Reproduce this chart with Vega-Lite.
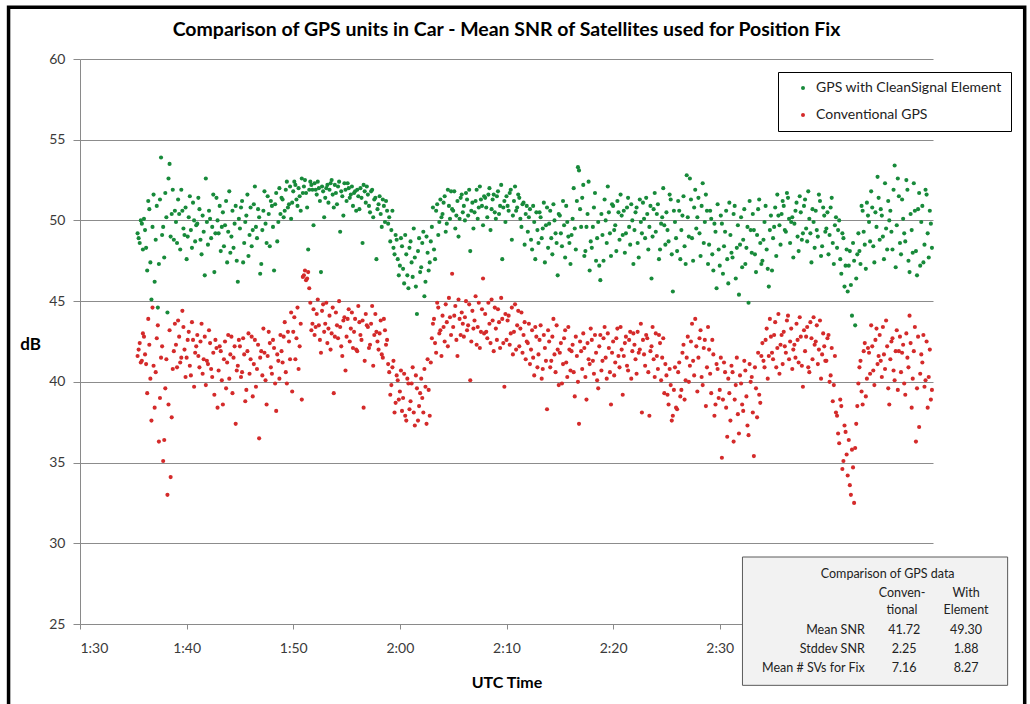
{
"$schema": "https://vega.github.io/schema/vega-lite/v6.json",
"autosize": "none",
"width": 853,
"height": 565,
"padding": {"left": 80, "top": 59, "right": 97, "bottom": 80},
"background": "white",
"config": {
  "font": "Lato",
  "view": {"stroke": null},
  "axis": {"labelFont": "Lato", "labelFontSize": 14, "labelColor": "#3a3a3a", "domainColor": "#8a8a8a", "tickColor": "#8a8a8a", "gridColor": "#8c8c8c", "titleFont": "Lato", "titleFontSize": 17, "titleFontWeight": "bold", "titleColor": "#000000"},
  "legend": {"orient": "none", "legendX": 698, "legendY": 13, "strokeColor": "#000000", "fillColor": "#ffffff", "padding": 9, "symbolOffset": 9, "labelFont": "Lato", "labelFontSize": 14, "labelColor": "#222222", "labelLimit": 400, "symbolSize": 16, "symbolType": "circle", "rowPadding": 13, "labelOffset": 6}
},
"title": {"text": "Comparison of GPS units in Car - Mean SNR of Satellites used for Position Fix", "font": "Lato", "fontSize": 19.5, "fontWeight": "bold", "color": "#000000", "anchor": "middle", "baseline": "alphabetic", "offset": -49.5},
"datasets": {
"frame": [{"t": 83.3, "t2": 178.6, "d": 63.2, "d2": 18}],
"box": [{"t": 152.13, "t2": 177.0, "d": 29.15, "d2": 21.2}],
"tcenter": [
 {"t": 165.75, "d": 28.09, "s": "Comparison of GPS data"},
 {"t": 167.1, "d": 26.93, "s": "Conven-"},
 {"t": 173.1, "d": 26.93, "s": "With"},
 {"t": 167.1, "d": 25.86, "s": "tional"},
 {"t": 173.1, "d": 25.86, "s": "Element"},
 {"t": 167.3, "d": 24.62, "s": "41.72"},
 {"t": 173.1, "d": 24.62, "s": "49.30"},
 {"t": 167.3, "d": 23.44, "s": "2.25"},
 {"t": 173.1, "d": 23.44, "s": "1.88"},
 {"t": 167.3, "d": 22.26, "s": "7.16"},
 {"t": 173.1, "d": 22.26, "s": "8.27"}
],
"tright": [
 {"t": 163.6, "d": 24.62, "s": "Mean SNR"},
 {"t": 163.6, "d": 23.44, "s": "Stddev SNR"},
 {"t": 163.6, "d": 22.26, "s": "Mean # SVs for Fix"}
],
"green": [
{"t":95.4,"v":49.2},{"t":95.6,"v":48.6},{"t":95.8,"v":49.8},
{"t":96.0,"v":50.1},{"t":96.2,"v":48.3},{"t":96.4,"v":51.2},{"t":96.6,"v":47.4},{"t":96.8,"v":49.6},
{"t":97.0,"v":46.2},{"t":97.2,"v":50.9},{"t":97.4,"v":47.3},{"t":97.6,"v":53.9},{"t":97.8,"v":49.6},
{"t":98.0,"v":51.7},{"t":98.2,"v":44.3},{"t":98.4,"v":53.5},{"t":98.6,"v":50.4},{"t":98.8,"v":48.8},
{"t":99.0,"v":49.9},{"t":99.2,"v":51.3},{"t":99.4,"v":48.2},{"t":99.6,"v":50.6},{"t":99.8,"v":49.1},
{"t":100.0,"v":47.6},{"t":100.2,"v":50.2},{"t":100.4,"v":49.4},{"t":100.6,"v":51.1},{"t":100.8,"v":48.7},
{"t":101.0,"v":49.8},{"t":101.2,"v":50.7},{"t":101.4,"v":47.9},{"t":101.6,"v":49.3},{"t":101.8,"v":52.6},
{"t":102.0,"v":48.5},{"t":102.2,"v":50.1},{"t":102.4,"v":49.6},{"t":102.6,"v":46.8},{"t":102.8,"v":51.4},
{"t":103.0,"v":49.2},{"t":103.2,"v":48.1},{"t":103.4,"v":50.5},{"t":103.6,"v":49.7},{"t":103.8,"v":47.4},
{"t":104.0,"v":51.8},{"t":104.2,"v":49.0},{"t":104.4,"v":48.3},{"t":104.6,"v":50.9},{"t":104.8,"v":46.2},
{"t":105.0,"v":49.5},{"t":105.2,"v":51.2},{"t":105.4,"v":48.6},{"t":105.6,"v":50.3},{"t":105.8,"v":47.8},
{"t":106.0,"v":50.8},{"t":106.2,"v":49.4},{"t":106.4,"v":52.1},{"t":106.6,"v":48.9},{"t":106.8,"v":50.2},
{"t":107.0,"v":47.3},{"t":107.2,"v":50.6},{"t":107.4,"v":49.8},{"t":107.6,"v":51.5},{"t":107.8,"v":48.4},
{"t":108.0,"v":50.9},{"t":108.2,"v":46.9},{"t":108.4,"v":51.7},{"t":108.6,"v":49.9},{"t":108.8,"v":50.4},
{"t":109.0,"v":51.3},{"t":109.2,"v":50.6},{"t":109.4,"v":52.4},{"t":109.6,"v":51.0},{"t":109.8,"v":50.1},
{"t":110.0,"v":51.8},{"t":110.2,"v":52.2},{"t":110.4,"v":50.9},{"t":110.6,"v":51.5},{"t":110.8,"v":52.6},
{"t":111.0,"v":52.1},{"t":111.2,"v":51.7},{"t":111.4,"v":48.2},{"t":111.6,"v":52.4},{"t":111.8,"v":51.9},
{"t":112.0,"v":52.3},{"t":112.2,"v":51.6},{"t":112.4,"v":52.0},{"t":112.6,"v":46.8},{"t":112.8,"v":51.8},
{"t":113.0,"v":51.4},{"t":113.2,"v":52.2},{"t":113.4,"v":51.9},{"t":113.6,"v":52.5},{"t":113.8,"v":50.8},
{"t":114.0,"v":51.7},{"t":114.2,"v":52.1},{"t":114.4,"v":49.3},{"t":114.6,"v":51.5},{"t":114.8,"v":52.3},
{"t":115.0,"v":51.2},{"t":115.2,"v":52.0},{"t":115.4,"v":51.6},{"t":115.6,"v":50.9},{"t":115.8,"v":51.8},
{"t":116.0,"v":51.9},{"t":116.2,"v":50.7},{"t":116.4,"v":51.4},{"t":116.6,"v":52.2},{"t":116.8,"v":51.1},
{"t":117.0,"v":51.6},{"t":117.2,"v":50.5},{"t":117.4,"v":51.9},{"t":117.6,"v":51.3},{"t":117.8,"v":47.6},
{"t":118.0,"v":51.0},{"t":118.2,"v":50.4},{"t":118.4,"v":51.3},{"t":118.6,"v":49.9},{"t":118.8,"v":50.6},
{"t":119.0,"v":50.2},{"t":119.2,"v":49.4},{"t":119.4,"v":48.3},{"t":119.6,"v":49.1},{"t":119.8,"v":47.6},
{"t":120.0,"v":47.2},{"t":120.2,"v":48.4},{"t":120.4,"v":46.1},{"t":120.6,"v":47.9},{"t":120.8,"v":45.8},
{"t":121.0,"v":48.7},{"t":121.2,"v":46.5},{"t":121.4,"v":47.7},{"t":121.6,"v":44.2},{"t":121.8,"v":48.9},
{"t":122.0,"v":47.1},{"t":122.2,"v":49.3},{"t":122.4,"v":46.2},{"t":122.6,"v":48.0},{"t":122.8,"v":47.4},
{"t":123.0,"v":49.6},{"t":123.2,"v":48.2},{"t":123.4,"v":50.6},{"t":123.6,"v":49.1},{"t":123.8,"v":51.3},
{"t":124.0,"v":50.4},{"t":124.2,"v":51.5},{"t":124.4,"v":49.8},{"t":124.6,"v":50.9},{"t":124.8,"v":51.8},
{"t":125.0,"v":50.6},{"t":125.2,"v":49.5},{"t":125.4,"v":51.2},{"t":125.6,"v":50.1},{"t":125.8,"v":51.6},
{"t":126.0,"v":50.9},{"t":126.2,"v":51.7},{"t":126.4,"v":50.3},{"t":126.6,"v":48.1},{"t":126.8,"v":51.1},
{"t":127.0,"v":50.5},{"t":127.2,"v":51.9},{"t":127.4,"v":50.8},{"t":127.6,"v":51.3},{"t":127.8,"v":49.7},
{"t":128.0,"v":51.4},{"t":128.2,"v":50.2},{"t":128.4,"v":52.0},{"t":128.6,"v":50.7},{"t":128.8,"v":51.6},
{"t":129.0,"v":50.1},{"t":129.2,"v":51.8},{"t":129.4,"v":50.9},{"t":129.6,"v":47.6},{"t":129.8,"v":51.2},
{"t":130.0,"v":51.5},{"t":130.2,"v":50.6},{"t":130.4,"v":51.9},{"t":130.6,"v":50.3},{"t":130.8,"v":52.1},
{"t":131.0,"v":50.8},{"t":131.2,"v":51.4},{"t":131.4,"v":49.6},{"t":131.6,"v":51.1},{"t":131.8,"v":50.4},
{"t":132.0,"v":49.3},{"t":132.2,"v":50.7},{"t":132.4,"v":48.2},{"t":132.6,"v":49.9},{"t":132.8,"v":50.5},
{"t":133.0,"v":48.6},{"t":133.2,"v":50.2},{"t":133.4,"v":49.5},{"t":133.6,"v":47.4},{"t":133.8,"v":50.8},
{"t":134.0,"v":49.8},{"t":134.2,"v":48.9},{"t":134.4,"v":51.0},{"t":134.6,"v":49.2},{"t":134.8,"v":46.6},
{"t":135.0,"v":50.3},{"t":135.2,"v":48.4},{"t":135.4,"v":49.7},{"t":135.6,"v":50.9},{"t":135.8,"v":49.0},
{"t":136.0,"v":47.3},{"t":136.2,"v":50.1},{"t":136.4,"v":49.5},{"t":136.6,"v":51.2},{"t":136.8,"v":53.1},
{"t":137.0,"v":49.6},{"t":137.2,"v":52.2},{"t":137.4,"v":48.1},{"t":137.6,"v":50.4},{"t":137.8,"v":46.9},
{"t":138.0,"v":48.3},{"t":138.2,"v":50.8},{"t":138.4,"v":47.5},{"t":138.6,"v":49.9},{"t":138.8,"v":46.3},
{"t":139.0,"v":49.1},{"t":139.2,"v":51.3},{"t":139.4,"v":48.6},{"t":139.6,"v":50.5},{"t":139.8,"v":47.8},
{"t":140.0,"v":50.9},{"t":140.2,"v":49.7},{"t":140.4,"v":51.2},{"t":140.6,"v":48.8},{"t":140.8,"v":50.3},
{"t":141.0,"v":50.6},{"t":141.2,"v":49.2},{"t":141.4,"v":51.4},{"t":141.6,"v":48.5},{"t":141.8,"v":50.0},
{"t":142.0,"v":49.4},{"t":142.2,"v":50.8},{"t":142.4,"v":47.7},{"t":142.6,"v":49.9},{"t":142.8,"v":51.1},
{"t":143.0,"v":48.9},{"t":143.2,"v":50.4},{"t":143.4,"v":49.6},{"t":143.6,"v":46.4},{"t":143.8,"v":50.7},
{"t":144.0,"v":49.3},{"t":144.2,"v":51.0},{"t":144.4,"v":48.2},{"t":144.6,"v":50.2},{"t":144.8,"v":49.7},
{"t":145.0,"v":50.5},{"t":145.2,"v":48.7},{"t":145.4,"v":51.3},{"t":145.6,"v":45.6},{"t":145.8,"v":49.9},
{"t":146.0,"v":48.1},{"t":146.2,"v":50.6},{"t":146.4,"v":49.4},{"t":146.6,"v":51.5},{"t":146.8,"v":47.3},
{"t":147.0,"v":50.2},{"t":147.2,"v":52.6},{"t":147.4,"v":48.9},{"t":147.6,"v":50.8},{"t":147.8,"v":49.5},
{"t":148.0,"v":51.4},{"t":148.2,"v":47.8},{"t":148.4,"v":52.3},{"t":148.6,"v":49.9},{"t":148.8,"v":50.6},
{"t":149.0,"v":48.5},{"t":149.2,"v":50.1},{"t":149.4,"v":46.9},{"t":149.6,"v":49.3},{"t":149.8,"v":51.0},
{"t":150.0,"v":47.2},{"t":150.2,"v":49.8},{"t":150.4,"v":48.4},{"t":150.6,"v":50.6},{"t":150.8,"v":46.1},
{"t":151.0,"v":49.1},{"t":151.2,"v":47.7},{"t":151.4,"v":50.9},{"t":151.6,"v":48.3},{"t":151.8,"v":45.4},
{"t":152.0,"v":50.2},{"t":152.2,"v":48.8},{"t":152.4,"v":47.3},{"t":152.6,"v":49.6},{"t":152.8,"v":51.2},
{"t":153.0,"v":48.0},{"t":153.2,"v":49.4},{"t":153.4,"v":46.8},{"t":153.6,"v":50.7},{"t":153.8,"v":48.6},
{"t":154.0,"v":47.5},{"t":154.2,"v":49.9},{"t":154.4,"v":48.2},{"t":154.6,"v":45.9},{"t":154.8,"v":50.3},
{"t":155.0,"v":48.9},{"t":155.2,"v":50.8},{"t":155.4,"v":51.6},{"t":155.6,"v":49.7},{"t":155.8,"v":50.4},
{"t":156.0,"v":50.9},{"t":156.2,"v":49.3},{"t":156.4,"v":51.4},{"t":156.6,"v":48.6},{"t":156.8,"v":50.2},
{"t":157.0,"v":49.8},{"t":157.2,"v":51.1},{"t":157.4,"v":48.1},{"t":157.6,"v":50.5},{"t":157.8,"v":49.2},
{"t":158.0,"v":51.3},{"t":158.2,"v":48.7},{"t":158.4,"v":50.1},{"t":158.6,"v":47.4},{"t":158.8,"v":49.9},
{"t":159.0,"v":50.6},{"t":159.2,"v":49.0},{"t":159.4,"v":51.2},{"t":159.6,"v":48.4},{"t":159.8,"v":50.3},
{"t":160.0,"v":49.5},{"t":160.2,"v":47.9},{"t":160.4,"v":50.8},{"t":160.6,"v":48.6},{"t":160.8,"v":49.7},
{"t":161.0,"v":48.3},{"t":161.2,"v":50.0},{"t":161.4,"v":46.7},{"t":161.6,"v":48.9},{"t":161.8,"v":47.2},
{"t":162.0,"v":45.6},{"t":162.2,"v":48.1},{"t":162.4,"v":44.1},{"t":162.6,"v":47.5},{"t":162.8,"v":46.4},
{"t":163.0,"v":49.2},{"t":163.2,"v":47.3},{"t":163.4,"v":50.6},{"t":163.6,"v":48.5},{"t":163.8,"v":51.1},
{"t":164.0,"v":49.9},{"t":164.2,"v":51.8},{"t":164.4,"v":48.4},{"t":164.6,"v":50.5},{"t":164.8,"v":52.7},
{"t":165.0,"v":48.8},{"t":165.2,"v":50.3},{"t":165.4,"v":47.6},{"t":165.6,"v":49.5},{"t":165.8,"v":51.2},
{"t":166.0,"v":50.6},{"t":166.2,"v":48.2},{"t":166.4,"v":53.4},{"t":166.6,"v":49.7},{"t":166.8,"v":51.5},
{"t":167.0,"v":47.9},{"t":167.2,"v":50.1},{"t":167.4,"v":48.7},{"t":167.6,"v":51.9},{"t":167.8,"v":46.8},
{"t":168.0,"v":49.4},{"t":168.2,"v":52.3},{"t":168.4,"v":48.1},{"t":168.6,"v":50.7},{"t":168.8,"v":47.2},
{"t":169.0,"v":50.9},{"t":169.2,"v":48.5},{"t":169.4,"v":51.6},{"t":169.6,"v":47.7},{"t":169.8,"v":49.8},
{"t":95.5,"v":48.9},{"t":95.7,"v":50.0},{"t":95.9,"v":48.2},
{"t":96.1,"v":49.4},{"t":96.3,"v":46.9},{"t":96.5,"v":50.7},{"t":96.7,"v":45.1},{"t":96.9,"v":51.6},
{"t":97.1,"v":48.8},{"t":97.3,"v":44.6},{"t":97.5,"v":51.3},{"t":97.7,"v":49.1},{"t":97.9,"v":47.7},
{"t":98.1,"v":50.2},{"t":98.3,"v":52.6},{"t":98.5,"v":49.0},{"t":98.7,"v":51.9},{"t":98.9,"v":50.6},
{"t":99.1,"v":48.6},{"t":99.3,"v":50.4},{"t":99.5,"v":51.9},{"t":99.7,"v":49.5},{"t":99.9,"v":50.8},
{"t":100.1,"v":49.0},{"t":100.3,"v":51.5},{"t":100.5,"v":48.3},{"t":100.7,"v":50.0},{"t":100.9,"v":49.7},
{"t":101.1,"v":51.4},{"t":101.3,"v":48.8},{"t":101.5,"v":50.3},{"t":101.7,"v":46.6},{"t":101.9,"v":49.9},
{"t":102.1,"v":50.6},{"t":102.3,"v":48.9},{"t":102.5,"v":51.6},{"t":102.7,"v":49.2},{"t":102.9,"v":50.0},
{"t":103.1,"v":50.9},{"t":103.3,"v":49.6},{"t":103.5,"v":48.4},{"t":103.7,"v":51.2},{"t":103.9,"v":49.3},
{"t":104.1,"v":48.0},{"t":104.3,"v":50.6},{"t":104.5,"v":49.8},{"t":104.7,"v":47.5},{"t":104.9,"v":50.1},
{"t":105.1,"v":50.8},{"t":105.3,"v":47.4},{"t":105.5,"v":49.9},{"t":105.7,"v":51.6},{"t":105.9,"v":49.1},
{"t":106.1,"v":48.4},{"t":106.3,"v":51.0},{"t":106.5,"v":49.6},{"t":106.7,"v":50.7},{"t":106.9,"v":46.7},
{"t":107.1,"v":49.4},{"t":107.3,"v":51.8},{"t":107.5,"v":48.6},{"t":107.7,"v":50.4},{"t":107.9,"v":51.2},
{"t":108.1,"v":49.6},{"t":108.3,"v":51.0},{"t":108.5,"v":48.7},{"t":108.7,"v":52.0},{"t":108.9,"v":51.4},
{"t":109.1,"v":50.2},{"t":109.3,"v":51.9},{"t":109.5,"v":50.8},{"t":109.7,"v":52.1},{"t":109.9,"v":51.1},
{"t":110.1,"v":52.4},{"t":110.3,"v":51.3},{"t":110.5,"v":52.0},{"t":110.7,"v":50.6},{"t":110.9,"v":51.7},
{"t":111.1,"v":52.5},{"t":111.3,"v":50.8},{"t":111.5,"v":51.9},{"t":111.7,"v":52.2},{"t":111.9,"v":49.7},
{"t":112.1,"v":51.9},{"t":112.3,"v":52.4},{"t":112.5,"v":51.2},{"t":112.7,"v":52.1},{"t":112.9,"v":50.2},
{"t":113.1,"v":52.0},{"t":113.3,"v":51.1},{"t":113.5,"v":52.3},{"t":113.7,"v":51.6},{"t":113.9,"v":52.2},
{"t":114.1,"v":51.0},{"t":114.3,"v":52.4},{"t":114.5,"v":51.8},{"t":114.7,"v":50.3},{"t":114.9,"v":51.9},
{"t":115.1,"v":52.3},{"t":115.3,"v":51.4},{"t":115.5,"v":52.1},{"t":115.7,"v":51.7},{"t":115.9,"v":50.6},
{"t":116.1,"v":51.5},{"t":116.3,"v":52.0},{"t":116.5,"v":48.6},{"t":116.7,"v":51.8},{"t":116.9,"v":52.1},
{"t":117.1,"v":50.9},{"t":117.3,"v":51.8},{"t":117.5,"v":50.2},{"t":117.7,"v":51.4},{"t":117.9,"v":50.7},
{"t":118.1,"v":51.5},{"t":118.3,"v":49.6},{"t":118.5,"v":50.9},{"t":118.7,"v":51.2},{"t":118.9,"v":49.8},
{"t":119.1,"v":48.7},{"t":119.3,"v":50.6},{"t":119.5,"v":47.9},{"t":119.7,"v":48.8},{"t":119.9,"v":46.6},
{"t":120.1,"v":48.9},{"t":120.3,"v":47.0},{"t":120.5,"v":49.1},{"t":120.7,"v":46.6},{"t":120.9,"v":48.3},
{"t":121.1,"v":47.4},{"t":121.3,"v":49.5},{"t":121.5,"v":45.9},{"t":121.7,"v":48.1},{"t":121.9,"v":46.8},
{"t":122.1,"v":48.6},{"t":122.3,"v":45.3},{"t":122.5,"v":49.0},{"t":122.7,"v":46.9},{"t":122.9,"v":48.7},
{"t":123.1,"v":50.8},{"t":123.3,"v":47.6},{"t":123.5,"v":51.0},{"t":123.7,"v":49.9},{"t":123.9,"v":50.2},
{"t":124.1,"v":51.1},{"t":124.3,"v":49.3},{"t":124.5,"v":51.9},{"t":124.7,"v":50.1},{"t":124.9,"v":50.7},
{"t":125.1,"v":51.8},{"t":125.3,"v":50.3},{"t":125.5,"v":49.0},{"t":125.7,"v":51.4},{"t":125.9,"v":50.5},
{"t":126.1,"v":50.0},{"t":126.3,"v":51.3},{"t":126.5,"v":51.9},{"t":126.7,"v":50.6},{"t":126.9,"v":49.5},
{"t":127.1,"v":51.2},{"t":127.3,"v":50.1},{"t":127.5,"v":52.1},{"t":127.7,"v":50.9},{"t":127.9,"v":51.5},
{"t":128.1,"v":50.8},{"t":128.3,"v":51.6},{"t":128.5,"v":49.4},{"t":128.7,"v":51.3},{"t":128.9,"v":50.5},
{"t":129.1,"v":51.5},{"t":129.3,"v":50.4},{"t":129.5,"v":52.2},{"t":129.7,"v":50.8},{"t":129.9,"v":49.9},
{"t":130.1,"v":50.9},{"t":130.3,"v":51.7},{"t":130.5,"v":48.8},{"t":130.7,"v":51.2},{"t":130.9,"v":50.6},
{"t":131.1,"v":51.6},{"t":131.3,"v":50.1},{"t":131.5,"v":51.0},{"t":131.7,"v":48.5},{"t":131.9,"v":50.9},
{"t":132.1,"v":50.2},{"t":132.3,"v":48.8},{"t":132.5,"v":50.9},{"t":132.7,"v":47.6},{"t":132.9,"v":49.4},
{"t":133.1,"v":50.5},{"t":133.3,"v":48.9},{"t":133.5,"v":51.1},{"t":133.7,"v":49.7},{"t":133.9,"v":48.3},
{"t":134.1,"v":50.6},{"t":134.3,"v":47.9},{"t":134.5,"v":50.0},{"t":134.7,"v":48.6},{"t":134.9,"v":50.4},
{"t":135.1,"v":49.2},{"t":135.3,"v":51.2},{"t":135.5,"v":47.7},{"t":135.7,"v":49.9},{"t":135.9,"v":48.6},
{"t":136.1,"v":49.1},{"t":136.3,"v":52.0},{"t":136.5,"v":48.2},{"t":136.7,"v":53.3},{"t":136.9,"v":50.7},
{"t":137.1,"v":51.4},{"t":137.3,"v":47.8},{"t":137.5,"v":49.6},{"t":137.7,"v":52.4},{"t":137.9,"v":48.7},
{"t":138.1,"v":49.6},{"t":138.3,"v":51.7},{"t":138.5,"v":48.9},{"t":138.7,"v":47.2},{"t":138.9,"v":50.4},
{"t":139.1,"v":47.5},{"t":139.3,"v":50.0},{"t":139.5,"v":52.1},{"t":139.7,"v":49.2},{"t":139.9,"v":51.0},
{"t":140.1,"v":49.4},{"t":140.3,"v":48.1},{"t":140.5,"v":50.5},{"t":140.7,"v":51.6},{"t":140.9,"v":49.1},
{"t":141.1,"v":48.0},{"t":141.3,"v":50.8},{"t":141.5,"v":49.6},{"t":141.7,"v":51.0},{"t":141.9,"v":47.3},
{"t":142.1,"v":50.5},{"t":142.3,"v":48.6},{"t":142.5,"v":51.3},{"t":142.7,"v":49.2},{"t":142.9,"v":50.1},
{"t":143.1,"v":51.4},{"t":143.3,"v":48.2},{"t":143.5,"v":50.9},{"t":143.7,"v":49.0},{"t":143.9,"v":51.7},
{"t":144.1,"v":50.4},{"t":144.3,"v":47.6},{"t":144.5,"v":49.8},{"t":144.7,"v":52.0},{"t":144.9,"v":48.5},
{"t":145.1,"v":49.4},{"t":145.3,"v":51.6},{"t":145.5,"v":47.9},{"t":145.7,"v":50.6},{"t":145.9,"v":48.9},
{"t":146.1,"v":51.2},{"t":146.3,"v":47.6},{"t":146.5,"v":50.3},{"t":146.7,"v":48.4},{"t":146.9,"v":52.8},
{"t":147.1,"v":49.0},{"t":147.3,"v":51.3},{"t":147.5,"v":47.5},{"t":147.7,"v":51.9},{"t":147.9,"v":50.2},
{"t":148.1,"v":49.2},{"t":148.3,"v":50.9},{"t":148.5,"v":48.6},{"t":148.7,"v":51.6},{"t":148.9,"v":47.3},
{"t":149.1,"v":50.6},{"t":149.3,"v":47.9},{"t":149.5,"v":49.8},{"t":149.7,"v":45.8},{"t":149.9,"v":48.2},
{"t":150.1,"v":50.3},{"t":150.3,"v":46.7},{"t":150.5,"v":49.3},{"t":150.7,"v":47.6},{"t":150.9,"v":51.1},
{"t":151.1,"v":48.0},{"t":151.3,"v":50.4},{"t":151.5,"v":46.4},{"t":151.7,"v":49.7},{"t":151.9,"v":48.5},
{"t":152.1,"v":47.1},{"t":152.3,"v":50.7},{"t":152.5,"v":48.3},{"t":152.7,"v":44.9},{"t":152.9,"v":49.4},
{"t":153.1,"v":50.4},{"t":153.3,"v":47.9},{"t":153.5,"v":49.1},{"t":153.7,"v":51.3},{"t":153.9,"v":47.3},
{"t":154.1,"v":48.8},{"t":154.3,"v":50.9},{"t":154.5,"v":47.0},{"t":154.7,"v":49.4},{"t":154.9,"v":46.9},
{"t":155.1,"v":49.6},{"t":155.3,"v":47.8},{"t":155.5,"v":50.3},{"t":155.7,"v":48.5},{"t":155.9,"v":51.2},
{"t":156.1,"v":49.4},{"t":156.3,"v":51.7},{"t":156.5,"v":50.1},{"t":156.7,"v":49.9},{"t":156.9,"v":47.7},
{"t":157.1,"v":50.6},{"t":157.3,"v":49.0},{"t":157.5,"v":51.5},{"t":157.7,"v":48.8},{"t":157.9,"v":50.9},
{"t":158.1,"v":49.5},{"t":158.3,"v":51.8},{"t":158.5,"v":49.2},{"t":158.7,"v":50.7},{"t":158.9,"v":48.3},
{"t":159.1,"v":49.4},{"t":159.3,"v":51.6},{"t":159.5,"v":47.8},{"t":159.7,"v":50.8},{"t":159.9,"v":49.3},
{"t":160.1,"v":50.5},{"t":160.3,"v":49.1},{"t":160.5,"v":51.4},{"t":160.7,"v":47.3},{"t":160.9,"v":50.2},
{"t":161.1,"v":49.4},{"t":161.3,"v":47.6},{"t":161.5,"v":49.2},{"t":161.7,"v":45.9},{"t":161.9,"v":48.2},
{"t":162.1,"v":47.2},{"t":162.3,"v":46.0},{"t":162.5,"v":48.6},{"t":162.7,"v":43.5},{"t":162.9,"v":47.9},
{"t":163.1,"v":48.1},{"t":163.3,"v":50.9},{"t":163.5,"v":49.3},{"t":163.7,"v":47.0},{"t":163.9,"v":50.3},
{"t":164.1,"v":48.7},{"t":164.3,"v":50.8},{"t":164.5,"v":47.4},{"t":164.7,"v":49.6},{"t":164.9,"v":51.4},
{"t":165.1,"v":50.7},{"t":165.3,"v":49.0},{"t":165.5,"v":52.3},{"t":165.7,"v":48.2},{"t":165.9,"v":50.0},
{"t":166.1,"v":49.3},{"t":166.3,"v":51.9},{"t":166.5,"v":47.1},{"t":166.7,"v":52.6},{"t":166.9,"v":48.6},
{"t":167.1,"v":51.3},{"t":167.3,"v":49.2},{"t":167.5,"v":52.5},{"t":167.7,"v":47.5},{"t":167.9,"v":50.4},
{"t":168.1,"v":48.0},{"t":168.3,"v":50.6},{"t":168.5,"v":46.6},{"t":168.7,"v":51.7},{"t":168.9,"v":49.9},
{"t":169.1,"v":47.4},{"t":169.3,"v":51.9},{"t":169.5,"v":49.2},{"t":169.7,"v":50.6},{"t":169.9,"v":48.3}
],
"red": [
{"t":95.4,"v":41.6},{"t":95.6,"v":42.4},{"t":95.8,"v":41.3},
{"t":96.0,"v":42.8},{"t":96.2,"v":41.1},{"t":96.4,"v":43.9},{"t":96.6,"v":40.2},{"t":96.8,"v":44.6},
{"t":97.0,"v":38.4},{"t":97.2,"v":42.7},{"t":97.4,"v":36.3},{"t":97.6,"v":41.5},{"t":97.8,"v":35.1},
{"t":98.0,"v":39.6},{"t":98.2,"v":33.0},{"t":98.4,"v":43.2},{"t":98.6,"v":37.8},{"t":98.8,"v":41.9},
{"t":99.0,"v":42.3},{"t":99.2,"v":43.8},{"t":99.4,"v":41.2},{"t":99.6,"v":44.4},{"t":99.8,"v":42.0},
{"t":100.0,"v":41.5},{"t":100.2,"v":43.1},{"t":100.4,"v":40.4},{"t":100.6,"v":42.6},{"t":100.8,"v":41.8},
{"t":101.0,"v":42.9},{"t":101.2,"v":40.9},{"t":101.4,"v":43.6},{"t":101.6,"v":41.4},{"t":101.8,"v":39.8},
{"t":102.0,"v":41.1},{"t":102.2,"v":42.4},{"t":102.4,"v":40.3},{"t":102.6,"v":39.2},{"t":102.8,"v":42.1},
{"t":103.0,"v":40.7},{"t":103.2,"v":41.9},{"t":103.4,"v":38.6},{"t":103.6,"v":42.5},{"t":103.8,"v":41.2},
{"t":104.0,"v":40.2},{"t":104.2,"v":42.8},{"t":104.4,"v":41.5},{"t":104.6,"v":37.4},{"t":104.8,"v":41.0},
{"t":105.0,"v":42.2},{"t":105.2,"v":40.6},{"t":105.4,"v":41.7},{"t":105.6,"v":39.5},{"t":105.8,"v":43.0},
{"t":106.0,"v":41.4},{"t":106.2,"v":39.1},{"t":106.4,"v":42.6},{"t":106.6,"v":40.8},{"t":106.8,"v":36.5},
{"t":107.0,"v":41.9},{"t":107.2,"v":43.3},{"t":107.4,"v":40.1},{"t":107.6,"v":41.6},{"t":107.8,"v":42.4},
{"t":108.0,"v":40.5},{"t":108.2,"v":42.1},{"t":108.4,"v":38.2},{"t":108.6,"v":41.3},{"t":108.8,"v":42.9},
{"t":109.0,"v":41.2},{"t":109.2,"v":43.7},{"t":109.4,"v":39.9},{"t":109.6,"v":42.5},{"t":109.8,"v":44.3},
{"t":110.0,"v":43.1},{"t":110.2,"v":41.4},{"t":110.4,"v":44.6},{"t":110.6,"v":42.2},{"t":110.8,"v":38.9},
{"t":111.0,"v":46.6},{"t":111.2,"v":46.3},{"t":111.4,"v":46.8},{"t":111.6,"v":44.9},{"t":111.8,"v":43.6},
{"t":112.0,"v":42.9},{"t":112.2,"v":44.2},{"t":112.4,"v":43.5},{"t":112.6,"v":41.8},{"t":112.8,"v":44.8},
{"t":113.0,"v":43.6},{"t":113.2,"v":42.4},{"t":113.4,"v":44.1},{"t":113.6,"v":43.0},{"t":113.8,"v":39.3},
{"t":114.0,"v":44.3},{"t":114.2,"v":42.7},{"t":114.4,"v":43.4},{"t":114.6,"v":41.6},{"t":114.8,"v":44.0},
{"t":115.0,"v":42.8},{"t":115.2,"v":44.5},{"t":115.4,"v":43.3},{"t":115.6,"v":42.1},{"t":115.8,"v":43.9},
{"t":116.0,"v":41.9},{"t":116.2,"v":43.7},{"t":116.4,"v":42.6},{"t":116.6,"v":38.4},{"t":116.8,"v":44.2},
{"t":117.0,"v":43.4},{"t":117.2,"v":42.3},{"t":117.4,"v":44.7},{"t":117.6,"v":42.9},{"t":117.8,"v":43.1},
{"t":118.0,"v":42.0},{"t":118.2,"v":43.8},{"t":118.4,"v":41.5},{"t":118.6,"v":43.2},{"t":118.8,"v":42.6},
{"t":119.0,"v":40.6},{"t":119.2,"v":39.8},{"t":119.4,"v":41.3},{"t":119.6,"v":38.7},{"t":119.8,"v":40.1},
{"t":120.0,"v":39.4},{"t":120.2,"v":38.2},{"t":120.4,"v":40.5},{"t":120.6,"v":37.6},{"t":120.8,"v":39.9},
{"t":121.0,"v":38.8},{"t":121.2,"v":40.9},{"t":121.4,"v":37.3},{"t":121.6,"v":39.6},{"t":121.8,"v":38.5},
{"t":122.0,"v":40.2},{"t":122.2,"v":38.1},{"t":122.4,"v":39.7},{"t":122.6,"v":41.4},{"t":122.8,"v":37.9},
{"t":123.0,"v":42.7},{"t":123.2,"v":43.9},{"t":123.4,"v":41.8},{"t":123.6,"v":44.6},{"t":123.8,"v":43.2},
{"t":124.0,"v":44.1},{"t":124.2,"v":42.5},{"t":124.4,"v":43.7},{"t":124.6,"v":45.2},{"t":124.8,"v":42.9},
{"t":125.0,"v":43.4},{"t":125.2,"v":44.7},{"t":125.4,"v":41.6},{"t":125.6,"v":43.9},{"t":125.8,"v":44.3},
{"t":126.0,"v":42.8},{"t":126.2,"v":45.0},{"t":126.4,"v":43.5},{"t":126.6,"v":40.1},{"t":126.8,"v":44.4},
{"t":127.0,"v":43.8},{"t":127.2,"v":42.3},{"t":127.4,"v":44.9},{"t":127.6,"v":43.1},{"t":127.8,"v":46.4},
{"t":128.0,"v":44.2},{"t":128.2,"v":42.7},{"t":128.4,"v":43.6},{"t":128.6,"v":45.1},{"t":128.8,"v":41.9},
{"t":129.0,"v":43.3},{"t":129.2,"v":44.5},{"t":129.4,"v":42.1},{"t":129.6,"v":43.9},{"t":129.8,"v":39.7},
{"t":130.0,"v":42.6},{"t":130.2,"v":44.1},{"t":130.4,"v":43.0},{"t":130.6,"v":41.7},{"t":130.8,"v":44.8},
{"t":131.0,"v":43.5},{"t":131.2,"v":42.2},{"t":131.4,"v":44.3},{"t":131.6,"v":42.9},{"t":131.8,"v":41.4},
{"t":132.0,"v":42.4},{"t":132.2,"v":41.1},{"t":132.4,"v":43.2},{"t":132.6,"v":40.4},{"t":132.8,"v":42.8},
{"t":133.0,"v":41.7},{"t":133.2,"v":43.5},{"t":133.4,"v":40.8},{"t":133.6,"v":42.1},{"t":133.8,"v":38.3},
{"t":134.0,"v":42.5},{"t":134.2,"v":41.3},{"t":134.4,"v":43.9},{"t":134.6,"v":40.6},{"t":134.8,"v":42.0},
{"t":135.0,"v":41.8},{"t":135.2,"v":39.9},{"t":135.4,"v":42.7},{"t":135.6,"v":41.2},{"t":135.8,"v":43.4},
{"t":136.0,"v":40.7},{"t":136.2,"v":42.3},{"t":136.4,"v":39.1},{"t":136.6,"v":41.6},{"t":136.8,"v":37.4},
{"t":137.0,"v":41.9},{"t":137.2,"v":43.0},{"t":137.4,"v":40.3},{"t":137.6,"v":42.4},{"t":137.8,"v":41.1},
{"t":138.0,"v":42.6},{"t":138.2,"v":40.5},{"t":138.4,"v":41.8},{"t":138.6,"v":39.6},{"t":138.8,"v":42.9},
{"t":139.0,"v":41.3},{"t":139.2,"v":43.4},{"t":139.4,"v":40.2},{"t":139.6,"v":42.1},{"t":139.8,"v":38.6},
{"t":140.0,"v":42.5},{"t":140.2,"v":41.2},{"t":140.4,"v":43.3},{"t":140.6,"v":40.9},{"t":140.8,"v":42.0},
{"t":141.0,"v":41.6},{"t":141.2,"v":42.8},{"t":141.4,"v":40.7},{"t":141.6,"v":43.1},{"t":141.8,"v":41.9},
{"t":142.0,"v":42.3},{"t":142.2,"v":40.5},{"t":142.4,"v":41.8},{"t":142.6,"v":43.6},{"t":142.8,"v":42.6},
{"t":143.0,"v":41.0},{"t":143.2,"v":42.7},{"t":143.4,"v":37.9},{"t":143.6,"v":42.2},{"t":143.8,"v":41.4},
{"t":144.0,"v":43.0},{"t":144.2,"v":40.8},{"t":144.4,"v":42.4},{"t":144.6,"v":41.5},{"t":144.8,"v":39.3},
{"t":145.0,"v":40.4},{"t":145.2,"v":38.6},{"t":145.4,"v":39.8},{"t":145.6,"v":37.9},{"t":145.8,"v":40.9},
{"t":146.0,"v":38.3},{"t":146.2,"v":41.2},{"t":146.4,"v":39.5},{"t":146.6,"v":42.3},{"t":146.8,"v":40.1},
{"t":147.0,"v":42.8},{"t":147.2,"v":41.0},{"t":147.4,"v":43.6},{"t":147.6,"v":40.4},{"t":147.8,"v":42.2},
{"t":148.0,"v":41.5},{"t":148.2,"v":43.2},{"t":148.4,"v":39.8},{"t":148.6,"v":42.6},{"t":148.8,"v":40.9},
{"t":149.0,"v":42.0},{"t":149.2,"v":39.3},{"t":149.4,"v":41.7},{"t":149.6,"v":38.6},{"t":149.8,"v":40.8},
{"t":150.0,"v":39.5},{"t":150.2,"v":35.3},{"t":150.4,"v":41.2},{"t":150.6,"v":38.4},{"t":150.8,"v":40.2},
{"t":151.0,"v":37.6},{"t":151.2,"v":40.6},{"t":151.4,"v":38.9},{"t":151.6,"v":41.5},{"t":151.8,"v":36.8},
{"t":152.0,"v":39.9},{"t":152.2,"v":38.2},{"t":152.4,"v":40.7},{"t":152.6,"v":37.3},{"t":152.8,"v":41.1},
{"t":153.0,"v":40.3},{"t":153.2,"v":35.4},{"t":153.4,"v":39.6},{"t":153.6,"v":41.8},{"t":153.8,"v":38.7},
{"t":154.0,"v":42.4},{"t":154.2,"v":40.9},{"t":154.4,"v":43.3},{"t":154.6,"v":41.6},{"t":154.8,"v":42.8},
{"t":155.0,"v":41.4},{"t":155.2,"v":43.7},{"t":155.4,"v":42.1},{"t":155.6,"v":40.5},{"t":155.8,"v":42.9},
{"t":156.0,"v":43.1},{"t":156.2,"v":41.8},{"t":156.4,"v":44.1},{"t":156.6,"v":42.5},{"t":156.8,"v":40.8},
{"t":157.0,"v":42.3},{"t":157.2,"v":43.6},{"t":157.4,"v":41.2},{"t":157.6,"v":42.8},{"t":157.8,"v":39.7},
{"t":158.0,"v":41.9},{"t":158.2,"v":43.4},{"t":158.4,"v":40.6},{"t":158.6,"v":42.7},{"t":158.8,"v":44.0},
{"t":159.0,"v":42.5},{"t":159.2,"v":41.1},{"t":159.4,"v":43.8},{"t":159.6,"v":41.7},{"t":159.8,"v":42.2},
{"t":160.0,"v":41.3},{"t":160.2,"v":42.9},{"t":160.4,"v":40.4},{"t":160.6,"v":38.8},{"t":160.8,"v":41.6},
{"t":161.0,"v":37.9},{"t":161.2,"v":36.2},{"t":161.4,"v":38.5},{"t":161.6,"v":35.1},{"t":161.8,"v":36.9},
{"t":162.0,"v":34.2},{"t":162.2,"v":33.6},{"t":162.4,"v":35.8},{"t":162.6,"v":32.5},{"t":162.8,"v":37.4},
{"t":163.0,"v":39.9},{"t":163.2,"v":41.3},{"t":163.4,"v":38.6},{"t":163.6,"v":42.4},{"t":163.8,"v":40.2},
{"t":164.0,"v":41.8},{"t":164.2,"v":43.5},{"t":164.4,"v":40.7},{"t":164.6,"v":42.6},{"t":164.8,"v":41.1},
{"t":165.0,"v":42.9},{"t":165.2,"v":40.3},{"t":165.4,"v":41.7},{"t":165.6,"v":43.8},{"t":165.8,"v":39.6},
{"t":166.0,"v":41.4},{"t":166.2,"v":42.7},{"t":166.4,"v":40.1},{"t":166.6,"v":43.2},{"t":166.8,"v":41.9},
{"t":167.0,"v":40.6},{"t":167.2,"v":42.3},{"t":167.4,"v":39.2},{"t":167.6,"v":41.5},{"t":167.8,"v":44.1},
{"t":168.0,"v":38.4},{"t":168.2,"v":41.9},{"t":168.4,"v":36.3},{"t":168.6,"v":42.8},{"t":168.8,"v":40.5},
{"t":169.0,"v":41.2},{"t":169.2,"v":39.7},{"t":169.4,"v":42.5},{"t":169.6,"v":40.3},{"t":169.8,"v":38.9},
{"t":95.5,"v":42.0},{"t":95.7,"v":41.2},{"t":95.9,"v":43.0},
{"t":96.1,"v":41.7},{"t":96.3,"v":39.3},{"t":96.5,"v":42.3},{"t":96.7,"v":37.6},{"t":96.9,"v":41.0},
{"t":97.1,"v":40.6},{"t":97.3,"v":43.5},{"t":97.5,"v":39.0},{"t":97.7,"v":42.2},{"t":97.9,"v":36.4},
{"t":98.1,"v":41.4},{"t":98.3,"v":38.6},{"t":98.5,"v":34.1},{"t":98.7,"v":40.8},{"t":98.9,"v":43.6},
{"t":99.1,"v":40.9},{"t":99.3,"v":42.8},{"t":99.5,"v":41.5},{"t":99.7,"v":43.4},{"t":99.9,"v":40.3},
{"t":100.1,"v":42.6},{"t":100.3,"v":41.0},{"t":100.5,"v":43.7},{"t":100.7,"v":39.7},{"t":100.9,"v":42.2},
{"t":101.1,"v":41.6},{"t":101.3,"v":42.5},{"t":101.5,"v":40.5},{"t":101.7,"v":42.8},{"t":101.9,"v":41.3},
{"t":102.1,"v":43.2},{"t":102.3,"v":40.8},{"t":102.5,"v":41.8},{"t":102.7,"v":42.6},{"t":102.9,"v":38.4},
{"t":103.1,"v":42.2},{"t":103.3,"v":40.1},{"t":103.5,"v":41.4},{"t":103.7,"v":39.6},{"t":103.9,"v":42.9},
{"t":104.1,"v":41.7},{"t":104.3,"v":39.3},{"t":104.5,"v":42.2},{"t":104.7,"v":40.7},{"t":104.9,"v":42.6},
{"t":105.1,"v":40.3},{"t":105.3,"v":42.7},{"t":105.5,"v":38.8},{"t":105.7,"v":41.9},{"t":105.9,"v":40.5},
{"t":106.1,"v":42.8},{"t":106.3,"v":41.1},{"t":106.5,"v":39.7},{"t":106.7,"v":42.3},{"t":106.9,"v":41.5},
{"t":107.1,"v":40.4},{"t":107.3,"v":41.8},{"t":107.5,"v":38.6},{"t":107.7,"v":43.1},{"t":107.9,"v":40.9},
{"t":108.1,"v":42.6},{"t":108.3,"v":39.9},{"t":108.5,"v":41.7},{"t":108.7,"v":40.2},{"t":108.9,"v":41.9},
{"t":109.1,"v":42.8},{"t":109.3,"v":40.6},{"t":109.5,"v":43.1},{"t":109.7,"v":41.4},{"t":109.9,"v":39.4},
{"t":110.1,"v":44.0},{"t":110.3,"v":42.7},{"t":110.5,"v":40.8},{"t":110.7,"v":43.6},{"t":110.9,"v":46.5},
{"t":111.1,"v":46.9},{"t":111.3,"v":46.4},{"t":111.5,"v":45.8},{"t":111.7,"v":43.2},{"t":111.9,"v":44.5},
{"t":112.1,"v":43.4},{"t":112.3,"v":45.1},{"t":112.5,"v":42.6},{"t":112.7,"v":44.4},{"t":112.9,"v":43.1},
{"t":113.1,"v":44.9},{"t":113.3,"v":43.3},{"t":113.5,"v":42.0},{"t":113.7,"v":44.6},{"t":113.9,"v":42.8},
{"t":114.1,"v":43.5},{"t":114.3,"v":45.0},{"t":114.5,"v":42.2},{"t":114.7,"v":43.8},{"t":114.9,"v":40.7},
{"t":115.1,"v":43.9},{"t":115.3,"v":42.5},{"t":115.5,"v":44.3},{"t":115.7,"v":43.1},{"t":115.9,"v":42.0},
{"t":116.1,"v":44.7},{"t":116.3,"v":42.9},{"t":116.5,"v":43.8},{"t":116.7,"v":41.3},{"t":116.9,"v":43.5},
{"t":117.1,"v":42.1},{"t":117.3,"v":43.6},{"t":117.5,"v":41.0},{"t":117.7,"v":44.2},{"t":117.9,"v":42.5},
{"t":118.1,"v":43.0},{"t":118.3,"v":41.7},{"t":118.5,"v":43.9},{"t":118.7,"v":42.3},{"t":118.9,"v":41.1},
{"t":119.1,"v":39.2},{"t":119.3,"v":40.9},{"t":119.5,"v":38.1},{"t":119.7,"v":40.4},{"t":119.9,"v":38.9},
{"t":120.1,"v":40.7},{"t":120.3,"v":39.0},{"t":120.5,"v":37.9},{"t":120.7,"v":40.2},{"t":120.9,"v":38.3},
{"t":121.1,"v":39.9},{"t":121.3,"v":38.1},{"t":121.5,"v":40.4},{"t":121.7,"v":37.6},{"t":121.9,"v":39.3},
{"t":122.1,"v":39.0},{"t":122.3,"v":40.8},{"t":122.5,"v":37.4},{"t":122.7,"v":39.5},{"t":122.9,"v":41.2},
{"t":123.1,"v":43.6},{"t":123.3,"v":42.4},{"t":123.5,"v":44.9},{"t":123.7,"v":43.0},{"t":123.9,"v":41.6},
{"t":124.1,"v":43.4},{"t":124.3,"v":44.8},{"t":124.5,"v":42.2},{"t":124.7,"v":44.0},{"t":124.9,"v":46.7},
{"t":125.1,"v":44.1},{"t":125.3,"v":42.6},{"t":125.5,"v":45.1},{"t":125.7,"v":42.9},{"t":125.9,"v":43.6},
{"t":126.1,"v":44.0},{"t":126.3,"v":43.2},{"t":126.5,"v":44.8},{"t":126.7,"v":42.5},{"t":126.9,"v":43.3},
{"t":127.1,"v":45.3},{"t":127.3,"v":43.4},{"t":127.5,"v":42.1},{"t":127.7,"v":44.5},{"t":127.9,"v":43.0},
{"t":128.1,"v":43.1},{"t":128.3,"v":44.9},{"t":128.5,"v":42.4},{"t":128.7,"v":43.8},{"t":128.9,"v":44.6},
{"t":129.1,"v":42.6},{"t":129.3,"v":43.7},{"t":129.5,"v":45.2},{"t":129.7,"v":42.4},{"t":129.9,"v":44.2},
{"t":130.1,"v":43.8},{"t":130.3,"v":42.3},{"t":130.5,"v":44.6},{"t":130.7,"v":43.1},{"t":130.9,"v":42.0},
{"t":131.1,"v":44.4},{"t":131.3,"v":43.3},{"t":131.5,"v":41.8},{"t":131.7,"v":43.7},{"t":131.9,"v":42.5},
{"t":132.1,"v":43.6},{"t":132.3,"v":42.0},{"t":132.5,"v":41.5},{"t":132.7,"v":43.4},{"t":132.9,"v":40.9},
{"t":133.1,"v":42.6},{"t":133.3,"v":40.2},{"t":133.5,"v":42.9},{"t":133.7,"v":41.3},{"t":133.9,"v":43.2},
{"t":134.1,"v":40.9},{"t":134.3,"v":42.8},{"t":134.5,"v":41.7},{"t":134.7,"v":43.5},{"t":134.9,"v":39.8},
{"t":135.1,"v":42.4},{"t":135.3,"v":41.1},{"t":135.5,"v":43.2},{"t":135.7,"v":40.3},{"t":135.9,"v":42.0},
{"t":136.1,"v":41.9},{"t":136.3,"v":40.6},{"t":136.5,"v":42.8},{"t":136.7,"v":40.0},{"t":136.9,"v":42.5},
{"t":137.1,"v":40.8},{"t":137.3,"v":42.1},{"t":137.5,"v":38.9},{"t":137.7,"v":41.4},{"t":137.9,"v":43.3},
{"t":138.1,"v":41.3},{"t":138.3,"v":42.9},{"t":138.5,"v":40.1},{"t":138.7,"v":42.2},{"t":138.9,"v":40.7},
{"t":139.1,"v":42.7},{"t":139.3,"v":41.5},{"t":139.5,"v":43.0},{"t":139.7,"v":40.6},{"t":139.9,"v":41.8},
{"t":140.1,"v":40.4},{"t":140.3,"v":42.7},{"t":140.5,"v":41.6},{"t":140.7,"v":43.4},{"t":140.9,"v":39.2},
{"t":141.1,"v":42.4},{"t":141.3,"v":41.0},{"t":141.5,"v":42.6},{"t":141.7,"v":40.2},{"t":141.9,"v":43.0},
{"t":142.1,"v":41.4},{"t":142.3,"v":43.1},{"t":142.5,"v":42.0},{"t":142.7,"v":38.1},{"t":142.9,"v":41.7},
{"t":143.1,"v":42.9},{"t":143.3,"v":40.6},{"t":143.5,"v":41.9},{"t":143.7,"v":43.4},{"t":143.9,"v":40.3},
{"t":144.1,"v":41.6},{"t":144.3,"v":42.9},{"t":144.5,"v":40.1},{"t":144.7,"v":42.7},{"t":144.9,"v":41.1},
{"t":145.1,"v":39.2},{"t":145.3,"v":40.8},{"t":145.5,"v":37.6},{"t":145.7,"v":39.5},{"t":145.9,"v":38.4},
{"t":146.1,"v":40.6},{"t":146.3,"v":39.1},{"t":146.5,"v":41.8},{"t":146.7,"v":38.9},{"t":146.9,"v":41.5},
{"t":147.1,"v":40.0},{"t":147.3,"v":42.5},{"t":147.5,"v":41.3},{"t":147.7,"v":43.9},{"t":147.9,"v":39.4},
{"t":148.1,"v":42.7},{"t":148.3,"v":40.3},{"t":148.5,"v":42.1},{"t":148.7,"v":38.5},{"t":148.9,"v":43.4},
{"t":149.1,"v":40.5},{"t":149.3,"v":42.6},{"t":149.5,"v":37.9},{"t":149.7,"v":41.1},{"t":149.9,"v":39.0},
{"t":150.1,"v":41.5},{"t":150.3,"v":38.9},{"t":150.5,"v":40.6},{"t":150.7,"v":36.6},{"t":150.9,"v":39.3},
{"t":151.1,"v":41.0},{"t":151.3,"v":36.3},{"t":151.5,"v":39.8},{"t":151.7,"v":38.0},{"t":151.9,"v":40.4},
{"t":152.1,"v":38.6},{"t":152.3,"v":41.3},{"t":152.5,"v":39.1},{"t":152.7,"v":36.7},{"t":152.9,"v":40.0},
{"t":153.1,"v":38.1},{"t":153.3,"v":40.9},{"t":153.5,"v":37.8},{"t":153.7,"v":39.2},{"t":153.9,"v":41.6},
{"t":154.1,"v":41.3},{"t":154.3,"v":42.6},{"t":154.5,"v":40.2},{"t":154.7,"v":43.9},{"t":154.9,"v":41.8},
{"t":155.1,"v":42.9},{"t":155.3,"v":40.9},{"t":155.5,"v":44.2},{"t":155.7,"v":42.3},{"t":155.9,"v":41.1},
{"t":156.1,"v":42.2},{"t":156.3,"v":43.8},{"t":156.5,"v":41.4},{"t":156.7,"v":43.3},{"t":156.9,"v":42.0},
{"t":157.1,"v":41.5},{"t":157.3,"v":42.6},{"t":157.5,"v":44.0},{"t":157.7,"v":41.0},{"t":157.9,"v":43.2},
{"t":158.1,"v":42.8},{"t":158.3,"v":40.9},{"t":158.5,"v":43.7},{"t":158.7,"v":41.4},{"t":158.9,"v":42.3},
{"t":159.1,"v":43.5},{"t":159.3,"v":42.0},{"t":159.5,"v":40.2},{"t":159.7,"v":43.0},{"t":159.9,"v":41.3},
{"t":160.1,"v":42.7},{"t":160.3,"v":40.0},{"t":160.5,"v":42.1},{"t":160.7,"v":39.8},{"t":160.9,"v":38.1},
{"t":161.1,"v":36.8},{"t":161.3,"v":38.9},{"t":161.5,"v":34.6},{"t":161.7,"v":37.3},{"t":161.9,"v":35.5},
{"t":162.1,"v":36.4},{"t":162.3,"v":33.0},{"t":162.5,"v":34.7},{"t":162.7,"v":35.9},{"t":162.9,"v":38.5},
{"t":163.1,"v":40.9},{"t":163.3,"v":39.4},{"t":163.5,"v":41.9},{"t":163.7,"v":39.1},{"t":163.9,"v":42.1},
{"t":164.1,"v":40.5},{"t":164.3,"v":42.2},{"t":164.5,"v":39.8},{"t":164.7,"v":43.3},{"t":164.9,"v":41.6},
{"t":165.1,"v":41.3},{"t":165.3,"v":43.4},{"t":165.5,"v":40.8},{"t":165.7,"v":42.2},{"t":165.9,"v":38.6},
{"t":166.1,"v":42.5},{"t":166.3,"v":40.7},{"t":166.5,"v":41.9},{"t":166.7,"v":39.5},{"t":166.9,"v":42.8},
{"t":167.1,"v":41.8},{"t":167.3,"v":39.9},{"t":167.5,"v":43.0},{"t":167.7,"v":40.9},{"t":167.9,"v":42.4},
{"t":168.1,"v":40.2},{"t":168.3,"v":43.4},{"t":168.5,"v":39.6},{"t":168.7,"v":37.2},{"t":168.9,"v":41.7},
{"t":169.1,"v":42.9},{"t":169.3,"v":40.1},{"t":169.5,"v":38.4},{"t":169.7,"v":42.0},{"t":169.9,"v":39.5}
]
},
"layer": [
{
 "data": {"name": "frame"},
 "mark": {"type": "rect", "fill": null, "stroke": "#000000", "strokeWidth": 3.5},
 "encoding": {
  "x": {"field": "t", "type": "quantitative", "scale": {"domain": [90, 170], "nice": false, "zero": false}},
  "x2": {"field": "t2"},
  "y": {"field": "d", "type": "quantitative", "scale": {"domain": [25, 60], "nice": false, "zero": false}},
  "y2": {"field": "d2"}
 }
},
{
 "data": {"name": "green"},
 "mark": {"type": "circle", "size": 17, "opacity": 1},
 "encoding": {
  "x": {"field": "t", "type": "quantitative", "scale": {"domain": [90, 170], "nice": false, "zero": false},
   "axis": {"values": [90, 100, 110, 120, 130, 140, 150], "grid": false, "tickSize": 5, "labelPadding": 12, "labelExpr": "floor(datum.value/60) + ':' + (datum.value % 60 < 10 ? '0' : '') + (datum.value % 60)", "title": "UTC Time", "titleFontSize": 16, "titleY": 58, "titleBaseline": "middle"}},
  "y": {"field": "v", "type": "quantitative", "scale": {"domain": [25, 60], "nice": false, "zero": false},
   "axis": {"values": [25, 30, 35, 40, 45, 50, 55, 60], "grid": true, "tickSize": 7, "labelPadding": 8, "title": "dB", "titleAngle": 0, "titleX": -50, "titleY": 285, "titleAlign": "center", "titleBaseline": "middle"}},
  "color": {"datum": "GPS with CleanSignal Element", "type": "nominal", "scale": {"domain": ["GPS with CleanSignal Element", "Conventional GPS"], "range": ["#178a3a", "#d42a2a"]}, "legend": {"title": null}}
 }
},
{
 "data": {"name": "red"},
 "mark": {"type": "circle", "size": 17, "opacity": 1},
 "encoding": {
  "x": {"field": "t", "type": "quantitative"},
  "y": {"field": "v", "type": "quantitative"},
  "color": {"datum": "Conventional GPS", "type": "nominal"}
 }
},
{
 "data": {"name": "box"},
 "mark": {"type": "rect", "fill": "#f2f2f2", "stroke": "#5a5a5a", "strokeWidth": 1},
 "encoding": {
  "x": {"field": "t", "type": "quantitative"},
  "x2": {"field": "t2"},
  "y": {"field": "d", "type": "quantitative"},
  "y2": {"field": "d2"}
 }
},
{
 "data": {"name": "tcenter"},
 "mark": {"type": "text", "align": "center", "baseline": "middle", "font": "Lato", "fontSize": 12.5, "color": "#222222"},
 "encoding": {
  "x": {"field": "t", "type": "quantitative"},
  "y": {"field": "d", "type": "quantitative"},
  "text": {"field": "s"}
 }
},
{
 "data": {"name": "tright"},
 "mark": {"type": "text", "align": "right", "baseline": "middle", "font": "Lato", "fontSize": 12.5, "color": "#222222"},
 "encoding": {
  "x": {"field": "t", "type": "quantitative"},
  "y": {"field": "d", "type": "quantitative"},
  "text": {"field": "s"}
 }
}
]
}
